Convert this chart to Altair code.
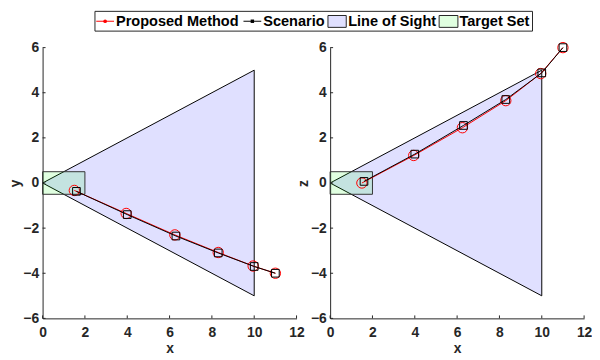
import altair as alt
import pandas as pd

# ---------------- data ----------------
x_ticks = [0, 2, 4, 6, 8, 10, 12]
y_ticks = [-6, -4, -2, 0, 2, 4, 6]

prop_x = [1.5, 3.95, 6.25, 8.3, 9.95, 11.0]
prop_y = [-0.33, -1.35, -2.3, -3.08, -3.68, -4.0]
prop_z = [0.0, 1.22, 2.45, 3.65, 4.85, 6.0]

scen_x = [1.6, 4.0, 6.3, 8.3, 10.0, 11.0]
scen_y = [-0.37, -1.4, -2.35, -3.1, -3.7, -4.0]
scen_z = [0.07, 1.28, 2.55, 3.7, 4.88, 6.0]

los_x = [0, 10]
los_lo = [0, -5]
los_hi = [0, 5]

target_x = [0, 2]
target_v = [-0.5, 0.5]

legend_labels = ["Proposed Method", "Scenario", "Line of Sight", "Target Set"]

# ---------------- style ----------------
W, H = 257, 274
AX = "#262626"
FONT = "Liberation Sans"
RED = "#ff0000"
LOS_FILL = "#0000ff"
TGT_FILL = "#00ff00"

xs = alt.Scale(domain=[0, 12], nice=False, zero=False)
ys = alt.Scale(domain=[-6, 6], nice=False, zero=False)

one = pd.DataFrame({"a": [0]})


def panel(vlabel, prop_v, scen_v, legend=False):
    los = pd.DataFrame({"x": los_x, "lo": los_lo, "hi": los_hi})
    tgt = pd.DataFrame({"x0": [target_x[0]], "x1": [target_x[1]],
                        "y0": [target_v[0]], "y1": [target_v[1]]})
    prop = pd.DataFrame({"x": prop_x, "v": prop_v})
    scen = pd.DataFrame({"x": scen_x, "v": scen_v})

    xaxis = alt.Axis(values=x_ticks, title="x", labelFlush=False, labelOverlap=False,
                     labelPadding=7, titlePadding=3)
    yaxis = alt.Axis(values=y_ticks, title=vlabel, labelFlush=False, labelOverlap=False,
                     labelPadding=4, titleX=-20)

    def X(f):
        return alt.X(f, scale=xs, title="x")

    def Y(f):
        return alt.Y(f, scale=ys, title=vlabel)

    area = alt.Chart(los).mark_area(
        fill=LOS_FILL, fillOpacity=0.12, stroke="black", strokeWidth=1, interpolate="linear"
    ).encode(
        x=alt.X("x:Q", scale=xs, axis=xaxis),
        y=alt.Y("hi:Q", scale=ys, axis=yaxis),
        y2="lo:Q",
    )
    rect = alt.Chart(tgt).mark_rect(
        fill=TGT_FILL, fillOpacity=0.12, stroke="#333333", strokeWidth=1
    ).encode(x=X("x0:Q"), x2="x1:Q", y=Y("y0:Q"), y2="y1:Q")
    pline = alt.Chart(prop).mark_line(color=RED, strokeWidth=1).encode(
        x=X("x:Q"), y=Y("v:Q"))
    ppts = alt.Chart(prop).mark_point(shape="circle", color=RED, size=110, strokeWidth=1,
                                      filled=False, opacity=1).encode(x=X("x:Q"), y=Y("v:Q"))
    sline = alt.Chart(scen).mark_line(color="black", strokeWidth=1).encode(
        x=X("x:Q"), y=Y("v:Q"))
    spts = alt.Chart(scen).mark_point(shape="square", color="black", size=60, strokeWidth=1,
                                      filled=False, opacity=1).encode(x=X("x:Q"), y=Y("v:Q"))

    yt = alt.Chart(pd.DataFrame({"v": y_ticks})).mark_rule(color=AX, strokeWidth=1).encode(
        y=Y("v:Q"), x=alt.value(0), x2=alt.value(3))
    xt = alt.Chart(pd.DataFrame({"v": x_ticks})).mark_rule(color=AX, strokeWidth=1).encode(
        x=X("v:Q"), y=alt.value(H), y2=alt.value(H - 3))

    layers = [area, rect, pline, ppts, sline, spts, yt, xt]

    if legend:
        ox, oy = 42.7, 45

        def P(x):
            return x - ox

        def Q(y):
            return y - oy

        ymid = Q(18.3)
        box = alt.Chart(one).mark_rect(fill="white", stroke=AX, strokeWidth=1).encode(
            x=alt.value(P(95.7)), x2=alt.value(P(538.5)), y=alt.value(Q(8.3)), y2=alt.value(Q(28.3)))
        l1 = alt.Chart(one).mark_rule(color=RED, strokeWidth=1).encode(
            x=alt.value(P(97)), x2=alt.value(P(115)), y=alt.value(ymid))
        m1 = alt.Chart(one).mark_point(shape="circle", color=RED, filled=True, size=14, opacity=1).encode(
            x=alt.value(P(106)), y=alt.value(ymid))
        l2 = alt.Chart(one).mark_rule(color="black", strokeWidth=1).encode(
            x=alt.value(P(246)), x2=alt.value(P(264)), y=alt.value(ymid))
        m2 = alt.Chart(one).mark_point(shape="square", color="black", filled=True, size=12, opacity=1).encode(
            x=alt.value(P(255)), y=alt.value(ymid))
        r1 = alt.Chart(one).mark_rect(fill="#e0e0ff", stroke=AX, strokeWidth=1).encode(
            x=alt.value(P(331.5)), x2=alt.value(P(350)), y=alt.value(Q(12.5)), y2=alt.value(Q(24.5)))
        r2 = alt.Chart(one).mark_rect(fill="#e0ffe0", stroke=AX, strokeWidth=1).encode(
            x=alt.value(P(444)), x2=alt.value(P(463)), y=alt.value(Q(12.5)), y2=alt.value(Q(24.5)))
        txt_x = [117, 266, 352, 464.6]
        texts = [
            alt.Chart(one).mark_text(align="left", baseline="middle", font=FONT, fontWeight="bold",
                                     fontSize=14.7, color="black").encode(
                x=alt.value(P(tx)), y=alt.value(ymid + 0.5), text=alt.value(lab))
            for tx, lab in zip(txt_x, legend_labels)
        ]
        layers += [box, l1, m1, l2, m2, r1, r2] + texts

    return alt.layer(*layers).properties(width=W, height=H)


left = panel("y", prop_y, scen_y, legend=True)
right = panel("z", prop_z, scen_z)

chart = alt.hconcat(left, right, spacing=34, bounds="flush").properties(
    padding={"left": 1, "top": 0, "right": 0, "bottom": 0}
).configure_view(stroke=None).configure_axis(
    grid=False, ticks=False, domainColor=AX, domainWidth=1,
    labelColor=AX, titleColor=AX, labelFont=FONT, titleFont=FONT,
    labelFontWeight="bold", titleFontWeight="bold", labelFontSize=14, titleFontSize=14,
)

chart.save("out.html", embed_options={"renderer": "svg", "actions": False})
